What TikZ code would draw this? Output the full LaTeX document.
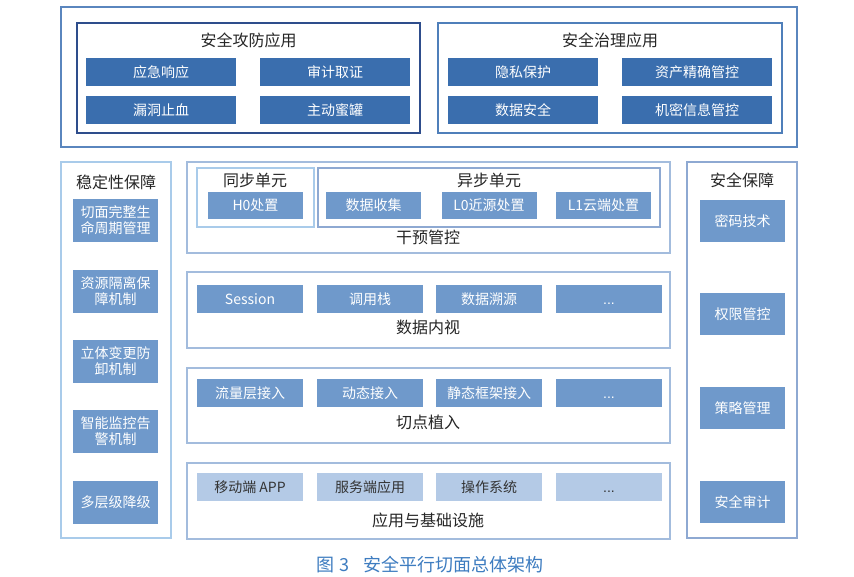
\documentclass[tikz,border=0pt]{standalone}
\usepackage{fontspec}
\setmainfont{Noto Sans CJK SC}
\newfontfamily\latinfont{Liberation Sans}
\usepackage{xcolor}
\usetikzlibrary{positioning}

\definecolor{outerblue}{HTML}{5A86BE}
\definecolor{navyline}{HTML}{2E4D8C}
\definecolor{midline}{HTML}{4F7FBA}
\definecolor{darkfill}{HTML}{3A6EAE}
\definecolor{midfill}{HTML}{6F99CB}
\definecolor{lightfill}{HTML}{B4CAE6}
\definecolor{paleline}{HTML}{A9CBEA}
\definecolor{greyline}{HTML}{A3BCDD}
\definecolor{sideline}{HTML}{8EA9D2}
\definecolor{captionblue}{HTML}{3D7CC0}

\begin{document}
\begin{tikzpicture}[x=1pt, y=-1pt,
    every node/.style={font=\fontsize{14}{16}\selectfont, inner sep=0pt},
    title/.style={font=\fontsize{16}{18}\selectfont, text=black!85},
    appbox/.style={fill=darkfill, text=white, minimum width=150pt, minimum height=28pt},
    sidebox/.style={fill=midfill, text=white, minimum width=85pt, minimum height=43pt, align=center},
    layerbox/.style={fill=midfill, text=white, minimum width=106pt, minimum height=28pt},
    unitbox/.style={fill=midfill, text=white, minimum width=95pt, minimum height=27pt},
    basebox/.style={fill=lightfill, text=black!80, minimum width=106pt, minimum height=28pt}]
  \useasboundingbox[fill=white] (0,0) rectangle (854,577);

  % top: applications
  \draw[outerblue, line width=1.4pt] (61,7) rectangle (797,147);
  \draw[navyline, line width=1.6pt] (77,23) rectangle (420,133);
  \draw[midline, line width=1.4pt] (438,23) rectangle (782,133);
  \node[title] (attack) at (248.5,40) {安全攻防应用};
  \node[title] (govern) at (610,40) {安全治理应用};
  \node[appbox] (resp)  at (161,72)    {应急响应};
  \node[appbox] (audit) at (335,72)    {审计取证};
  \node[appbox] (vuln)  at (161,110.5) {漏洞止血};
  \node[appbox] (honey) at (335,110.5) {主动蜜罐};
  \node[appbox] (priv)  at (523,72)    {隐私保护};
  \node[appbox] (asset) at (697,72)    {资产精确管控};
  \node[appbox] (dsec)  at (523,110.5) {数据安全};
  \node[appbox] (secret) at (697,110.5) {机密信息管控};

  % left column
  \draw[paleline, line width=1.4pt] (61,162) rectangle (171,538);
  \node[title] (stable) at (116,182) {稳定性保障};
  \node[sidebox] (life)  at (115.5,220.5) {切面完整生\\命周期管理};
  \node[sidebox] (iso)   at (115.5,291.5) {资源隔离保\\障机制};
  \node[sidebox] (chg)   at (115.5,361.5) {立体变更防\\卸机制};
  \node[sidebox] (mon)   at (115.5,431.5) {智能监控告\\警机制};
  \node[sidebox] (degr)  at (115.5,502.5) {多层级降级};

  % right column
  \draw[sideline, line width=1.4pt] (687,162) rectangle (797,538);
  \node[title] (guard) at (742,180) {安全保障};
  \node[sidebox, minimum height=42pt] (crypto) at (742.5,221) {密码技术};
  \node[sidebox, minimum height=42pt] (perm)   at (742.5,314) {权限管控};
  \node[sidebox, minimum height=42pt] (policy) at (742.5,408) {策略管理};
  \node[sidebox, minimum height=42pt] (saudit) at (742.5,502) {安全审计};

  % intervention layer
  \draw[greyline, line width=1.4pt] (187,162) rectangle (670,253);
  \draw[paleline, line width=2pt] (197,168) rectangle (314,227);
  \draw[sideline, line width=1.6pt] (318,168) rectangle (660,227);
  \node[title] (sync)  at (255,180) {同步单元};
  \node[title] (async) at (489,180) {异步单元};
  \node[unitbox] (h0)      at (255.5,205.5) {H0处置};
  \node[unitbox] (collect) at (373.5,205.5) {数据收集};
  \node[unitbox] (l0)      at (489,205.5)   {L0近源处置};
  \node[unitbox] (l1)      at (603.5,205.5) {L1云端处置};
  \node[title] (ctrl) at (428,237) {干预管控};

  % data introspection layer
  \draw[greyline, line width=1.4pt] (187,272) rectangle (670,348);
  \node[layerbox] (sess)  at (250,299) {Session};
  \node[layerbox] (stack) at (370,299) {调用栈};
  \node[layerbox] (trace) at (489,299) {数据溯源};
  \node[layerbox] (more1) at (609,299) {\vphantom{数}\latinfont ...};
  \node[title] (insight) at (428,327) {数据内视};

  % cut-point layer
  \draw[greyline, line width=1.4pt] (187,368) rectangle (670,443);
  \node[layerbox] (flow)   at (250,393) {流量层接入};
  \node[layerbox] (dyn)    at (370,393) {动态接入};
  \node[layerbox] (static) at (489,393) {静态框架接入};
  \node[layerbox] (more2)  at (609,393) {\vphantom{数}\latinfont ...};
  \node[title] (implant) at (428,422) {切点植入};

  % application and infrastructure layer
  \draw[greyline, line width=1.4pt] (187,463) rectangle (670,539);
  \node[basebox] (mobile) at (250,487) {移动端 APP};
  \node[basebox] (server) at (370,487) {服务端应用};
  \node[basebox] (os)     at (489,487) {操作系统};
  \node[basebox] (more3)  at (609,487) {\vphantom{数}\latinfont ...};
  \node[title] (infra) at (428,520) {应用与基础设施};

  \node[font=\fontsize{18}{20}\selectfont, text=captionblue] (caption) at (430,565)
    {图 3\hspace{14pt}安全平行切面总体架构};
\end{tikzpicture}
\end{document}
